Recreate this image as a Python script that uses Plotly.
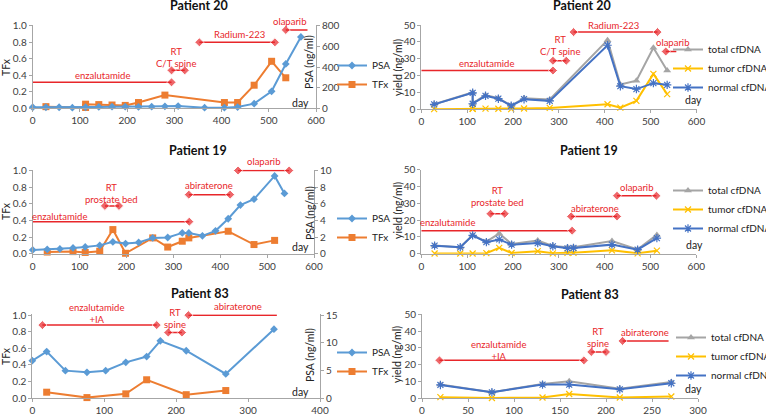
import plotly.graph_objects as go

W, H = 766, 414
FONT = "Lato, 'Open Sans', sans-serif"
RED = "#e8262a"
AX = "#a6a6a6"
C_PSA, C_TFX = "#5b9bd5", "#ed7d31"
C_TOT, C_TUM, C_NOR = "#a5a5a5", "#ffc000", "#4472c4"

# ---------------- data ----------------
# Patient 20
p20_psa_day = [0, 28, 56, 84, 112, 140, 168, 196, 224, 252, 280, 308, 364, 406, 434, 469, 506, 536, 568]
p20_psa = [10, 10, 10, 6, 10, 13, 16, 16, 13, 16, 19, 22, 6, 6, 12, 45, 165, 430, 692]
p20_tfx_day = [28, 112, 112, 140, 168, 196, 224, 280, 406, 434, 469, 506, 536]
p20_tfx = [0.02, 0.01, 0.05, 0.045, 0.04, 0.035, 0.07, 0.16, 0.07, 0.07, 0.28, 0.57, 0.37]
p20_cf_day = [28, 112, 112, 140, 168, 196, 224, 280, 406, 434, 469, 506, 536]
p20_total = [3.0, 10.0, 3.5, 8.4, 6.6, 2.2, 6.5, 5.8, 41.0, 14.7, 17.0, 36.5, 23.0]
p20_tumor = [0.1, 0.3, 0.3, 0.4, 0.3, 0.1, 0.5, 0.8, 3.0, 1.0, 5.0, 21.0, 9.0]
p20_normal = [2.9, 9.8, 3.3, 8.0, 6.3, 2.1, 6.0, 5.0, 38.0, 13.7, 12.0, 15.5, 14.5]

# Patient 19
p19_psa_day = [0, 31, 58, 86, 112, 143, 171, 198, 226, 256, 288, 319, 333, 362, 390, 417, 443, 472, 516, 537]
p19_psa = [0.45, 0.52, 0.58, 0.7, 0.82, 1.0, 1.42, 1.22, 1.35, 1.9, 1.95, 2.5, 2.5, 2.15, 2.75, 4.2, 5.85, 6.55, 9.35, 7.25]
p19_tfx_day = [31, 86, 112, 143, 171, 198, 256, 288, 319, 333, 417, 472, 516]
p19_tfx = [0.02, 0.025, 0.015, 0.03, 0.29, 0.005, 0.19, 0.08, 0.15, 0.19, 0.27, 0.11, 0.16]
p19_cf_day = [29, 85, 112, 142, 170, 197, 254, 287, 319, 332, 416, 472, 514]
p19_total = [4.9, 3.9, 11.0, 7.2, 12.0, 5.8, 7.8, 4.6, 3.8, 3.8, 7.5, 2.6, 11.2]
p19_tumor = [0.1, 0.1, 0.1, 0.3, 3.5, 0.4, 1.5, 0.2, 0.5, 0.5, 2.0, 0.2, 1.8]
p19_normal = [4.8, 3.8, 10.9, 6.9, 8.5, 5.4, 6.3, 4.4, 3.2, 3.4, 5.4, 2.4, 9.3]

# Patient 83
p83_psa_day = [0, 20, 46, 76, 102, 130, 159, 178, 214, 269, 336]
p83_psa = [6.75, 8.4, 4.95, 4.65, 4.95, 6.45, 7.5, 10.35, 8.55, 4.35, 12.45]
p83_tfx_day = [20, 76, 130, 159, 214, 269]
p83_tfx = [0.07, 0.005, 0.05, 0.22, 0.04, 0.09]
p83_cf_day = [20, 76, 131, 160, 215, 271]
p83_total = [8.0, 3.5, 8.3, 10.0, 5.6, 9.5]
p83_tumor = [0.5, 0.0, 0.3, 2.4, 0.3, 0.9]
p83_normal = [7.8, 3.4, 8.0, 8.0, 5.2, 8.8]

# Treatment bars: start day, end day, level, marker at start / end
p20a_tx_start = [0, 294, 353, 536]
p20a_tx_end = [294, 322, 513, 582]
p20a_tx_level = [0.315, 0.46, 0.80, 0.95]
p20b_tx_start = [0, 287, 332, 533]
p20b_tx_end = [287, 316, 515, 556]
p20b_tx_level = [23.0, 28.8, 45.8, 34.3]
p20_tx_cap_start = [False, True, True, True]
p20_tx_cap_end = [True, True, True, False]

p19a_tx_start = [0, 154, 333, 438]
p19a_tx_end = [334, 184, 421, 547]
p19a_tx_level = [0.385, 0.575, 0.71, 1.0]
p19b_tx_start = [0, 151, 327, 427]
p19b_tx_end = [329, 182, 427, 513]
p19b_tx_level = [13.7, 23.8, 22.2, 34.5]
p19_tx_cap_start = [False, True, True, True]
p19_tx_cap_end = [True, True, True, True]

p83a_tx_start = [14, 189, 217]
p83a_tx_end = [173, 208, 340]
p83a_tx_level = [0.88, 0.79, 1.0]
p83b_tx_start = [19, 184, 218]
p83b_tx_end = [176, 200, 268]
p83b_tx_level = [22.5, 27.5, 34.1]
p83_tx_cap_start = [True, True, True]
p83_tx_cap_end = [True, True, False]

# Treatment label texts (anchor day / value on the panel's left axis)
p20a_labels = [("enzalutamide", 148, 0.394), ("RT<br>C/T spine", 304, 0.612),
               ("Radium-223", 438, 0.892), ("olaparib", 544, 1.056)]
p20b_labels = [("enzalutamide", 142, 27.4), ("RT<br>C/T spine", 302, 38.1),
               ("Radium-223", 418, 49.8), ("olaparib", 548, 39.9)]
p19a_labels = [("enzalutamide", 57, 0.444), ("RT<br>prostate bed", 169, 0.729),
               ("abiraterone", 376, 0.821), ("olaparib", 493, 1.111)]
p19b_labels = [("enzalutamide", 58, 18.3), ("RT<br>prostate bed", 166, 33.85),
               ("abiraterone", 380, 27.2), ("olaparib", 469, 39.5)]
p83a_labels = [("enzalutamide<br>+IA", 89, 1.016), ("RT<br>spine", 198, 0.959),
               ("abiraterone", 286, 1.10)]
p83b_labels = [("enzalutamide<br>+IA", 83, 28.1), ("RT<br>spine", 191, 35.85),
               ("abiraterone", 242, 39.0)]

TFX_MAX = 1.01
fig = go.Figure()


def py(p):
    return 1 - p / H


def px(p):
    return p / W


def add_tx(xa, ya, starts, ends, levels, cap_s, cap_e):
    for s, e, lv, cs, ce in zip(starts, ends, levels, cap_s, cap_e):
        fig.add_trace(go.Scatter(
            x=[s, e], y=[lv, lv], mode="lines+markers", xaxis=xa, yaxis=ya,
            line=dict(color=RED, width=1.5),
            marker=dict(symbol="diamond", color=RED, size=[7 if cs else 0, 7 if ce else 0]),
            showlegend=False, hoverinfo="skip", cliponaxis=False))


def add_labels(xa, ya, labels, ymax):
    for t, xd, yd in labels:
        fig.add_annotation(x=xd, y=yd / ymax, xref=xa, yref=ya + " domain", text=t, showarrow=False,
                           xanchor="center", yanchor="middle",
                           font=dict(size=9.5, color=RED, family=FONT))


def tfx_panel(xa, ya, ya2, leg, psa_d, psa, tfx_d, tfx):
    fig.add_trace(go.Scatter(x=psa_d, y=psa, name="PSA", mode="lines+markers", xaxis=xa, yaxis=ya2,
                             line=dict(color=C_PSA, width=2), marker=dict(symbol="diamond", size=6, color=C_PSA),
                             legend=leg, cliponaxis=False))
    fig.add_trace(go.Scatter(x=tfx_d, y=tfx, name="TFx", mode="lines+markers", xaxis=xa, yaxis=ya,
                             line=dict(color=C_TFX, width=2), marker=dict(symbol="square", size=7, color=C_TFX),
                             legend=leg, cliponaxis=False))


def cf_panel(xa, ya, leg, d, tot, tum, nor):
    fig.add_trace(go.Scatter(x=d, y=tot, name="total cfDNA", mode="lines+markers", xaxis=xa, yaxis=ya,
                             line=dict(color=C_TOT, width=2), marker=dict(symbol="triangle-up", size=7, color=C_TOT),
                             legend=leg, cliponaxis=False))
    fig.add_trace(go.Scatter(x=d, y=tum, name="tumor cfDNA", mode="lines+markers", xaxis=xa, yaxis=ya,
                             line=dict(color=C_TUM, width=2),
                             marker=dict(symbol="x-thin-open", size=6, color=C_TUM, line=dict(width=1.2, color=C_TUM)),
                             legend=leg, cliponaxis=False))
    fig.add_trace(go.Scatter(x=d, y=nor, name="normal cfDNA", mode="lines+markers", xaxis=xa, yaxis=ya,
                             line=dict(color=C_NOR, width=2),
                             marker=dict(symbol="asterisk-open", size=7, color=C_NOR, line=dict(width=1.2, color=C_NOR)),
                             legend=leg, cliponaxis=False))


# Patient 20
add_tx("x", "y", p20a_tx_start, p20a_tx_end, p20a_tx_level, p20_tx_cap_start, p20_tx_cap_end)
tfx_panel("x", "y", "y2", "legend", p20_psa_day, p20_psa, p20_tfx_day, p20_tfx)
add_labels("x", "y", p20a_labels, TFX_MAX)
add_tx("x2", "y3", p20b_tx_start, p20b_tx_end, p20b_tx_level, p20_tx_cap_start, p20_tx_cap_end)
cf_panel("x2", "y3", "legend2", p20_cf_day, p20_total, p20_tumor, p20_normal)
add_labels("x2", "y3", p20b_labels, 50)

# Patient 19
add_tx("x3", "y4", p19a_tx_start, p19a_tx_end, p19a_tx_level, p19_tx_cap_start, p19_tx_cap_end)
tfx_panel("x3", "y4", "y5", "legend3", p19_psa_day, p19_psa, p19_tfx_day, p19_tfx)
add_labels("x3", "y4", p19a_labels, TFX_MAX)
add_tx("x4", "y6", p19b_tx_start, p19b_tx_end, p19b_tx_level, p19_tx_cap_start, p19_tx_cap_end)
cf_panel("x4", "y6", "legend4", p19_cf_day, p19_total, p19_tumor, p19_normal)
add_labels("x4", "y6", p19b_labels, 50)

# Patient 83
add_tx("x5", "y7", p83a_tx_start, p83a_tx_end, p83a_tx_level, p83_tx_cap_start, p83_tx_cap_end)
tfx_panel("x5", "y7", "y8", "legend5", p83_psa_day, p83_psa, p83_tfx_day, p83_tfx)
add_labels("x5", "y7", p83a_labels, TFX_MAX)
add_tx("x6", "y9", p83b_tx_start, p83b_tx_end, p83b_tx_level, p83_tx_cap_start, p83_tx_cap_end)
cf_panel("x6", "y9", "legend6", p83_cf_day, p83_total, p83_tumor, p83_normal)
add_labels("x6", "y9", p83b_labels, 50)

ax = dict(showgrid=False, zeroline=False, showline=True, linecolor=AX, linewidth=1,
          ticks="outside", ticklen=3, tickcolor=AX, fixedrange=True,
          tickfont=dict(size=10, color="#404040", family=FONT))

layout = dict(
    width=W, height=H, margin=dict(l=0, r=0, t=0, b=0, autoexpand=False),
    paper_bgcolor="white", plot_bgcolor="white",
    font=dict(family=FONT, color="#222"),
    xaxis=dict(ax, domain=[px(32.7), px(316)], range=[0, 600], dtick=100, anchor="y"),
    yaxis=dict(ax, domain=[py(108.3), py(25)], range=[0, TFX_MAX], dtick=0.2, tickformat=".1f", anchor="x"),
    yaxis2=dict(ax, overlaying="y", side="right", range=[0, 800 * TFX_MAX], dtick=200, anchor="x"),
    xaxis2=dict(ax, domain=[px(421.3), px(696.5)], range=[0, 600], dtick=100, anchor="y3"),
    yaxis3=dict(ax, domain=[py(109.3), py(25)], range=[0, 50], dtick=10, anchor="x2"),
    xaxis3=dict(ax, domain=[px(32.7), px(314)], range=[0, 600], dtick=100, anchor="y4"),
    yaxis4=dict(ax, domain=[py(253.7), py(169.7)], range=[0, TFX_MAX], dtick=0.2, tickformat=".1f", anchor="x3"),
    yaxis5=dict(ax, overlaying="y4", side="right", range=[0, 10 * TFX_MAX], dtick=2, anchor="x3"),
    xaxis4=dict(ax, domain=[px(421.3), px(696.3)], range=[0, 600], dtick=100, anchor="y6"),
    yaxis6=dict(ax, domain=[py(253.7), py(169.7)], range=[0, 50], dtick=10, anchor="x4"),
    xaxis5=dict(ax, domain=[px(32.3), px(320)], range=[0, 400], dtick=100, anchor="y7"),
    yaxis7=dict(ax, domain=[py(398), py(314.3)], range=[0, TFX_MAX], dtick=0.2, tickformat=".1f", anchor="x5"),
    yaxis8=dict(ax, overlaying="y7", side="right", range=[0, 15 * TFX_MAX], dtick=5, anchor="x5"),
    xaxis6=dict(ax, domain=[px(422), px(698)], range=[0, 300], dtick=50, anchor="y9"),
    yaxis9=dict(ax, domain=[py(398), py(314.3)], range=[0, 50], dtick=10, anchor="x6"),
)
leg = dict(xanchor="left", yanchor="top", bgcolor="rgba(0,0,0,0)", borderwidth=0,
           font=dict(size=10, color="#222", family=FONT), itemwidth=30, tracegroupgap=0)
layout["legend"] = dict(leg, x=px(332), y=py(51))
layout["legend3"] = dict(leg, x=px(332), y=py(204))
layout["legend5"] = dict(leg, x=px(332), y=py(338))
layout["legend2"] = dict(leg, x=px(668), y=py(35))
layout["legend4"] = dict(leg, x=px(668), y=py(176))
layout["legend6"] = dict(leg, x=px(671), y=py(323))
fig.update_layout(**layout)


def note(t, xc, yc, size, color, angle=0):
    fig.add_annotation(x=px(xc), y=py(yc), xref="paper", yref="paper", text=t, textangle=angle,
                       xanchor="center", yanchor="middle", showarrow=False,
                       font=dict(size=size, color=color, family=FONT))


# titles
for t, xc, yc in [("Patient 20", 199, 6), ("Patient 20", 582, 6), ("Patient 19", 198, 150),
                  ("Patient 19", 589, 150), ("Patient 83", 200, 293), ("Patient 83", 590, 294)]:
    note("<b>%s</b>" % t, xc, yc, 12.5, "#111")

# axis titles
for t, xc, yc in [("TFx", 6, 67), ("TFx", 6, 211), ("TFx", 6, 356),
                  ("PSA (ng/ml)", 309, 62), ("PSA (ng/ml)", 310, 213), ("PSA (ng/ml)", 310, 355),
                  ("yield (ng/ml)", 398, 68), ("yield (ng/ml)", 398, 211), ("yield (ng/ml)", 397, 355)]:
    note(t, xc, yc, 10.5, "#222", -90)

# "day" labels
for xc, yc in [(300, 103), (693, 100), (300, 247), (694, 245), (300, 392), (693, 389)]:
    note("day", xc, yc, 10.5, "#222")

fig.write_html("out.html", config={"displayModeBar": False},
               post_script="document.body.style.margin='0';document.body.style.overflow='hidden';")
